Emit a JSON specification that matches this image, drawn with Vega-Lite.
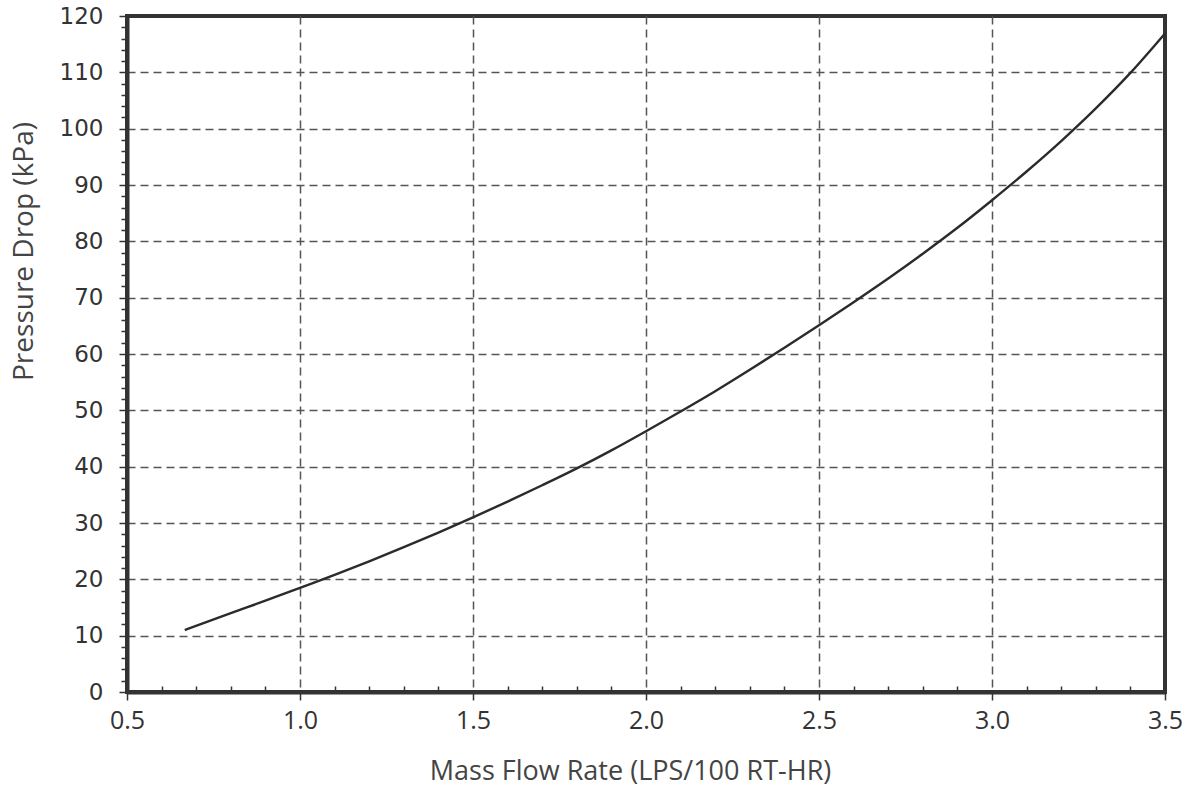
{
  "$schema": "https://vega.github.io/schema/vega-lite/v6.json",
  "width": 1038,
  "height": 676,
  "autosize": {"type": "none"},
  "padding": {"left": 127, "top": 16, "right": 27, "bottom": 95},
  "background": "white",
  "config": {
    "view": {"stroke": "#333333", "strokeWidth": 4},
    "axis": {"domainColor": "#333333", "domainWidth": 4, "tickColor": "#333333", "tickWidth": 1.5, "labelColor": "#333333", "titleColor": "#444444", "titleFontWeight": "normal"}
  },
  "data": {
    "values": [
      {"flow": 0.667, "dp": 11.0},
      {"flow": 0.8, "dp": 14.0},
      {"flow": 0.9, "dp": 16.2},
      {"flow": 1.0, "dp": 18.5},
      {"flow": 1.1, "dp": 20.8},
      {"flow": 1.2, "dp": 23.2},
      {"flow": 1.3, "dp": 25.7},
      {"flow": 1.4, "dp": 28.3},
      {"flow": 1.5, "dp": 31.0},
      {"flow": 1.6, "dp": 33.8},
      {"flow": 1.7, "dp": 36.7},
      {"flow": 1.8, "dp": 39.7},
      {"flow": 1.9, "dp": 42.9},
      {"flow": 2.0, "dp": 46.3},
      {"flow": 2.1, "dp": 49.8},
      {"flow": 2.2, "dp": 53.4},
      {"flow": 2.3, "dp": 57.2},
      {"flow": 2.4, "dp": 61.1},
      {"flow": 2.5, "dp": 65.1},
      {"flow": 2.6, "dp": 69.2},
      {"flow": 2.7, "dp": 73.4},
      {"flow": 2.8, "dp": 77.8},
      {"flow": 2.9, "dp": 82.4},
      {"flow": 3.0, "dp": 87.3},
      {"flow": 3.1, "dp": 92.4},
      {"flow": 3.2, "dp": 97.8},
      {"flow": 3.3, "dp": 103.6},
      {"flow": 3.4, "dp": 109.9},
      {"flow": 3.5, "dp": 116.9}
    ]
  },
  "layer": [
    {
      "mark": {"type": "line", "color": "#2b2b2b", "strokeWidth": 2.4, "interpolate": "monotone"},
      "encoding": {
        "x": {
          "field": "flow", "type": "quantitative",
          "scale": {"domain": [0.5, 3.5], "nice": false, "zero": false},
          "axis": {
            "orient": "bottom",
            "values": [0.5, 1.0, 1.5, 2.0, 2.5, 3.0, 3.5],
            "format": ".1f",
            "grid": true,
            "gridColor": "#555555",
            "gridWidth": 1.5,
            "gridDash": [8, 5],
            "gridOpacity": {"condition": {"test": "datum.value <= 0.5 || datum.value >= 3.5", "value": 0}, "value": 1},
            "tickSize": 8,
            "labelPadding": 8,
            "labelFont": "Open Sans",
            "labelFontSize": 25,
            "labelFlush": false,
            "title": "Mass Flow Rate (LPS/100 RT-HR)",
            "titleFont": "Open Sans",
            "titleFontSize": 27,
            "titleX": 503,
            "titleY": 79,
            "titleAlign": "center",
            "titleBaseline": "middle",
            "titleAnchor": "middle"
          }
        },
        "y": {
          "field": "dp", "type": "quantitative",
          "scale": {"domain": [0, 120], "nice": false, "zero": true},
          "axis": {
            "orient": "left",
            "values": [0, 10, 20, 30, 40, 50, 60, 70, 80, 90, 100, 110, 120],
            "grid": true,
            "gridColor": "#555555",
            "gridWidth": 1.5,
            "gridDash": [8, 5],
            "gridOpacity": {"condition": {"test": "datum.value <= 0 || datum.value >= 120", "value": 0}, "value": 1},
            "tickSize": 8,
            "labelPadding": 16,
            "labelFont": "DejaVu Sans",
            "labelFontSize": 23,
            "title": "Pressure Drop (kPa)",
            "titleFont": "Open Sans",
            "titleFontSize": 28,
            "titleAngle": 270,
            "titleX": -103,
            "titleY": 235,
            "titleAlign": "center",
            "titleBaseline": "middle",
            "titleAnchor": "middle"
          }
        }
      }
    },
    {
      "mark": {"type": "line", "opacity": 0},
      "encoding": {
        "x": {
          "field": "flow", "type": "quantitative",
          "axis": {
            "orient": "bottom",
            "values": [0.6, 0.7, 0.8, 0.9, 1.1, 1.2, 1.3, 1.4, 1.6, 1.7, 1.8, 1.9, 2.1, 2.2, 2.3, 2.4, 2.6, 2.7, 2.8, 2.9, 3.1, 3.2, 3.3, 3.4],
            "grid": false,
            "domain": false,
            "labels": false,
            "tickSize": -6,
            "title": null
          }
        },
        "y": {
          "field": "dp", "type": "quantitative",
          "axis": {
            "orient": "left",
            "values": [2, 4, 6, 8, 12, 14, 16, 18, 22, 24, 26, 28, 32, 34, 36, 38, 42, 44, 46, 48, 52, 54, 56, 58, 62, 64, 66, 68, 72, 74, 76, 78, 82, 84, 86, 88, 92, 94, 96, 98, 102, 104, 106, 108, 112, 114, 116, 118],
            "grid": false,
            "domain": false,
            "labels": false,
            "tickSize": 6,
            "title": null
          }
        }
      }
    }
  ],
  "resolve": {"axis": {"x": "independent", "y": "independent"}}
}
